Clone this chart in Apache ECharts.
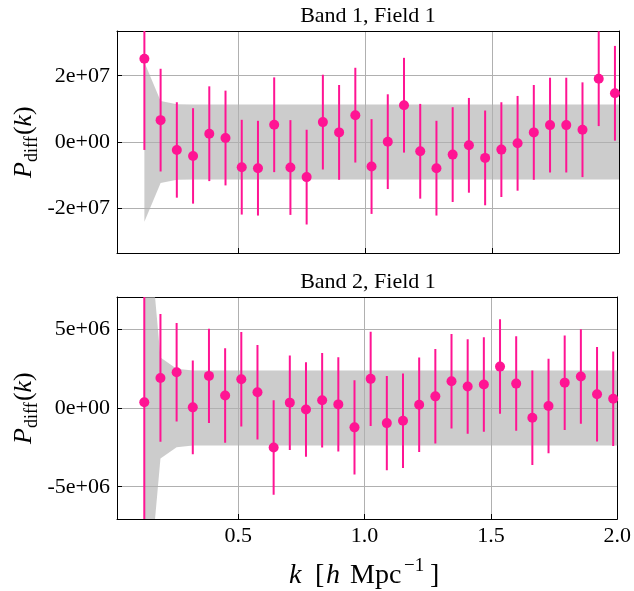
<!DOCTYPE html>
<html><head><meta charset="utf-8">
<script src="https://cdn.jsdelivr.net/npm/echarts@6/dist/echarts.min.js"></script>
<style>html,body{margin:0;padding:0;background:#fff}#c{width:634px;height:591px}</style>
</head><body><div id="c"></div>
<script>
// ---- data ----
const kValues = [0.128,0.192,0.256,0.320,0.384,0.448,0.512,0.576,0.640,0.704,0.768,0.832,0.896,0.960,1.024,
                 1.088,1.152,1.216,1.280,1.344,1.408,1.472,1.536,1.600,1.664,1.728,1.792,1.856,1.920,1.984];
const bandK = [0.128,0.192,0.256,0.320,0.384,0.448,0.512,0.576,0.640,0.704,0.768,0.832,0.896,0.960,1.024,
               1.088,1.152,1.216,1.280,1.344,1.408,1.472,1.536,1.600,1.664,1.728,1.792,1.856,1.920,1.984,2.048];

const band1Values = [2.51e7,0.66e7,-0.24e7,-0.42e7,0.25e7,0.12e7,-0.76e7,-0.79e7,0.52e7,-0.77e7,-1.06e7,0.60e7,0.29e7,0.81e7,-0.74e7,
                     0.01e7,1.11e7,-0.28e7,-0.79e7,-0.38e7,-0.10e7,-0.48e7,-0.23e7,-0.04e7,0.29e7,0.51e7,0.51e7,0.37e7,1.91e7,1.47e7];
const band1Errors = [2.75e7,1.55e7,1.44e7,1.44e7,1.43e7,1.43e7,1.43e7,1.43e7,1.43e7,1.43e7,1.43e7,1.43e7,1.43e7,1.43e7,1.43e7,
                     1.43e7,1.43e7,1.43e7,1.43e7,1.43e7,1.43e7,1.43e7,1.43e7,1.43e7,1.43e7,1.43e7,1.43e7,1.43e7,1.43e7,1.43e7];
const band1Sigma = [2.41e7,1.24e7,1.14e7,1.13e7,1.13e7,1.13e7,1.13e7,1.13e7,1.13e7,1.13e7,1.13e7,1.13e7,1.13e7,1.13e7,1.13e7,
                    1.13e7,1.13e7,1.13e7,1.13e7,1.13e7,1.13e7,1.13e7,1.13e7,1.13e7,1.13e7,1.13e7,1.13e7,1.13e7,1.13e7,1.13e7,1.13e7];

const band2Values = [0.36e6,1.91e6,2.27e6,0.04e6,2.04e6,0.79e6,1.83e6,1.00e6,-2.51e6,0.34e6,-0.09e6,0.49e6,0.23e6,-1.23e6,1.85e6,
                     -0.96e6,-0.81e6,0.21e6,0.74e6,1.70e6,1.36e6,1.49e6,2.63e6,1.55e6,-0.62e6,0.13e6,1.61e6,2.00e6,0.87e6,0.59e6];
const band2Errors = [11.0e6,4.06e6,3.13e6,2.98e6,3.0e6,3.0e6,3.0e6,3.0e6,3.0e6,3.0e6,3.0e6,3.0e6,3.0e6,3.0e6,3.0e6,
                     3.0e6,3.0e6,3.0e6,3.0e6,3.0e6,3.0e6,3.0e6,3.0e6,3.0e6,3.0e6,3.0e6,3.0e6,3.0e6,3.0e6,3.0e6];
const band2Sigma = [14.7e6,3.2e6,2.5e6,2.38e6,2.38e6,2.38e6,2.38e6,2.38e6,2.38e6,2.38e6,2.38e6,2.38e6,2.38e6,2.38e6,2.38e6,
                    2.38e6,2.38e6,2.38e6,2.38e6,2.38e6,2.38e6,2.38e6,2.38e6,2.38e6,2.38e6,2.38e6,2.38e6,2.38e6,2.38e6,2.38e6,2.38e6];

const xTicks = [0.5, 1.0, 1.5, 2.0];
const xTickLabels = ['0.5', '1.0', '1.5', '2.0'];
const y1Ticks = [-2e7, 0, 2e7];
const y1TickLabels = ['-2e+07', '0e+00', '2e+07'];
const y2Ticks = [-5e6, 0, 5e6];
const y2TickLabels = ['-5e+06', '0e+00', '5e+06'];
const panelTitles = ['Band 1, Field 1', 'Band 2, Field 1'];

// ---- style ----
const FONT = 'Liberation Serif';
const PINK = '#ff1493';
const BAND = 'rgba(176,176,176,0.646)';
const GRIDC = '#b0b0b0';

const chart = echarts.init(document.getElementById('c'), null, {renderer: 'canvas'});

function clipRect(params) {
  const cs = params.coordSys;
  return {type: 'rect', shape: {x: cs.x, y: cs.y, width: cs.width, height: cs.height}};
}
function bandSeries(idx, sigma) {
  return {
    type: 'custom', xAxisIndex: idx, yAxisIndex: idx, z: 1, silent: true,
    data: [[bandK[0], 0]],
    renderItem(params, api) {
      const upper = bandK.map((k, i) => api.coord([k, sigma[i]]));
      const lower = bandK.map((k, i) => api.coord([k, -sigma[i]])).reverse();
      return {type: 'polygon', shape: {points: upper.concat(lower)}, style: {fill: BAND}, clipPath: clipRect(params)};
    }
  };
}
function errSeries(idx, vals, errs) {
  return {
    type: 'custom', xAxisIndex: idx, yAxisIndex: idx, z: 2, silent: true,
    data: kValues.map((k, i) => [k, vals[i], errs[i]]),
    encode: {x: 0, y: 1},
    renderItem(params, api) {
      const k = api.value(0), v = api.value(1), e = api.value(2);
      const a = api.coord([k, v + e]), b = api.coord([k, v - e]);
      return {type: 'line', shape: {x1: a[0], y1: a[1], x2: b[0], y2: b[1]},
              style: {stroke: PINK, lineWidth: 2}, clipPath: clipRect(params)};
    }
  };
}
function pointSeries(idx, vals) {
  return {
    type: 'scatter', xAxisIndex: idx, yAxisIndex: idx, z: 3, silent: true,
    symbol: 'circle', symbolSize: 10, itemStyle: {color: PINK, opacity: 1},
    data: kValues.map((k, i) => [k, vals[i]])
  };
}
function xAxis(idx, showLabels) {
  return {
    type: 'value', gridIndex: idx, min: 0.02, max: 2.0,
    axisLine: {show: true, onZero: false, lineStyle: {color: '#000', width: 1}},
    axisTick: {show: true, inside: true, length: 5, customValues: xTicks, lineStyle: {color: '#000', width: 1}},
    axisLabel: {show: showLabels, customValues: xTicks, margin: 6,
      formatter: v => xTickLabels[xTicks.findIndex(t => Math.abs(t - v) < 1e-9)] || '',
      fontFamily: FONT, fontSize: 22, color: '#000'},
    splitLine: {show: true, lineStyle: {color: GRIDC, width: 1}}
  };
}
function frameX(idx) {
  return {type: 'value', gridIndex: idx, position: 'top', min: 0.02, max: 2.0,
    axisLine: {show: true, onZero: false, lineStyle: {color: '#000', width: 1}},
    axisTick: {show: false}, axisLabel: {show: false}, splitLine: {show: false}};
}
function frameY(idx, lim) {
  return {type: 'value', gridIndex: idx, position: 'right', min: -lim, max: lim,
    axisLine: {show: true, onZero: false, lineStyle: {color: '#000', width: 1}},
    axisTick: {show: false}, axisLabel: {show: false}, splitLine: {show: false}};
}
function yAxis(idx, lim, ticks, labels) {
  return {
    type: 'value', gridIndex: idx, min: -lim, max: lim,
    axisLine: {show: true, onZero: false, lineStyle: {color: '#000', width: 1}},
    axisTick: {show: true, inside: true, length: 5, customValues: ticks, lineStyle: {color: '#000', width: 1}},
    axisLabel: {show: true, customValues: ticks, margin: 7,
      formatter: v => labels[ticks.findIndex(t => Math.abs(t - v) < 1e-3)] || '',
      fontFamily: FONT, fontSize: 22, color: '#000'},
    splitLine: {show: true, lineStyle: {color: GRIDC, width: 1}}
  };
}

function ylabelGroup(cx, cy) {
  const fs = 26, sfs = 18, off = 0.34;
  return {
    type: 'group', x: cx, y: cy + 36, rotation: Math.PI / 2, silent: true,
    children: [
      {type: 'text', x: 0, y: -off * fs, style: {text: 'P', font: `italic ${fs}px "${FONT}"`, fill: '#000', verticalAlign: 'middle', align: 'left'}},
      {type: 'text', x: 16, y: 5 - off * sfs, style: {text: 'diff', font: `${sfs}px "${FONT}"`, fill: '#000', verticalAlign: 'middle', align: 'left'}},
      {type: 'text', x: 43, y: -off * fs, style: {text: '(', font: `${fs}px "${FONT}"`, fill: '#000', verticalAlign: 'middle', align: 'left'}},
      {type: 'text', x: 51.5, y: -off * fs, style: {text: 'k', font: `italic ${fs}px "${FONT}"`, fill: '#000', verticalAlign: 'middle', align: 'left'}},
      {type: 'text', x: 63, y: -off * fs, style: {text: ')', font: `${fs}px "${FONT}"`, fill: '#000', verticalAlign: 'middle', align: 'left'}}
    ]
  };
}
function xlabelGroup(x0, base) {
  const fs = 28, sfs = 19, off = 0.34;
  const t = (text, x, italic, size, dy) => ({type: 'text', x: x, y: (dy || 0) - off * size,
    style: {text: text, font: `${italic ? 'italic ' : ''}${size}px "${FONT}"`, fill: '#000', verticalAlign: 'middle', align: 'left'}});
  return {
    type: 'group', x: x0, y: base, silent: true,
    children: [
      t('k', 0, true, fs),
      t('[', 26, false, fs),
      t('h', 37, true, fs),
      t('Mpc', 61, false, fs),
      t('\u22121', 115, false, sfs, -13),
      t(']', 141, false, fs)
    ]
  };
}

const option = {
  animation: false,
  backgroundColor: '#fff',
  grid: [
    {left: 117, top: 31, width: 502, height: 222},
    {left: 117, top: 297, width: 502, height: 222}
  ],
  xAxis: [xAxis(0, false), xAxis(1, true), frameX(0), frameX(1)],
  yAxis: [yAxis(0, 3.35e7, y1Ticks, y1TickLabels), yAxis(1, 7.05e6, y2Ticks, y2TickLabels), frameY(0, 3.35e7), frameY(1, 7.05e6)],
  series: [
    bandSeries(0, band1Sigma), errSeries(0, band1Values, band1Errors), pointSeries(0, band1Values),
    bandSeries(1, band2Sigma), errSeries(1, band2Values, band2Errors), pointSeries(1, band2Values)
  ],
  graphic: [
    {type: 'text', x: 368, y: 16, silent: true, style: {text: panelTitles[0], font: `22px "${FONT}"`, fill: '#000', align: 'center', verticalAlign: 'middle'}},
    {type: 'text', x: 368, y: 282, silent: true, style: {text: panelTitles[1], font: `22px "${FONT}"`, fill: '#000', align: 'center', verticalAlign: 'middle'}},
    ylabelGroup(33, 142),
    ylabelGroup(33, 408),
    xlabelGroup(289, 585)
  ]
};
chart.setOption(option);
</script>
</body></html>
